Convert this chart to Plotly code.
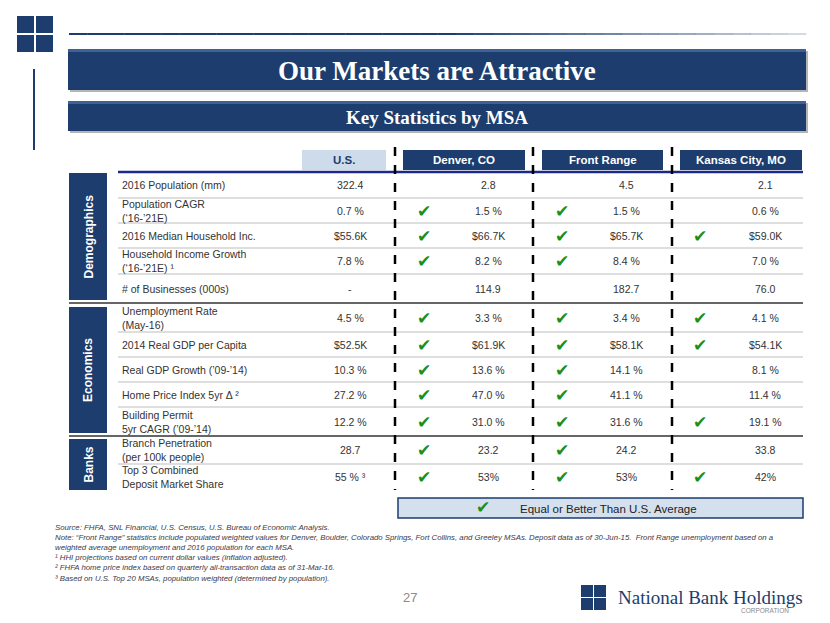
import plotly.graph_objects as go

# ---------------- data ----------------
title = "Our Markets are Attractive"
subtitle = "Key Statistics by MSA"
columns = ["U.S.", "Denver, CO", "Front Range", "Kansas City, MO"]
sections = ["Demographics", "Economics", "Banks"]
section_rows = [5, 5, 2]
row_labels = [
    "2016 Population (mm)",
    "Population CAGR<br>(‘16-’21E)",
    "2016 Median Household Inc.",
    "Household Income Growth<br>(‘16-’21E) ¹",
    "# of Businesses (000s)",
    "Unemployment Rate<br>(May-16)",
    "2014 Real GDP per Capita",
    "Real GDP Growth (’09-’14)",
    "Home Price Index 5yr Δ ²",
    "Building Permit<br>5yr CAGR (’09-’14)",
    "Branch Penetration<br>(per 100k people)",
    "Top 3 Combined<br>Deposit Market Share",
]
us_values = ["322.4", "0.7 %", "$55.6K", "7.8 %", "-", "4.5 %", "$52.5K", "10.3 %",
             "27.2 %", "12.2 %", "28.7", "55 % ³"]
denver_values = ["2.8", "1.5 %", "$66.7K", "8.2 %", "114.9", "3.3 %", "$61.9K", "13.6 %",
                 "47.0 %", "31.0 %", "23.2", "53%"]
front_range_values = ["4.5", "1.5 %", "$65.7K", "8.4 %", "182.7", "3.4 %", "$58.1K", "14.1 %",
                      "41.1 %", "31.6 %", "24.2", "53%"]
kansas_city_values = ["2.1", "0.6 %", "$59.0K", "7.0 %", "76.0", "4.1 %", "$54.1K", "8.1 %",
                      "11.4 %", "19.1 %", "33.8", "42%"]
# 1 = equal or better than U.S. average
denver_checks = [0, 1, 1, 1, 0, 1, 1, 1, 1, 1, 1, 1]
front_range_checks = [0, 1, 1, 1, 0, 1, 1, 1, 1, 1, 1, 1]
kansas_city_checks = [0, 0, 1, 0, 0, 1, 1, 0, 0, 1, 0, 1]
legend_text = "Equal or Better Than U.S. Average"
footnotes = [
    "Source: FHFA, SNL Financial, U.S. Census, U.S. Bureau of Economic Analysis.",
    "Note: “Front Range” statistics include populated weighted values for Denver, Boulder, Colorado Springs, Fort Collins, and Greeley MSAs. Deposit data as of 30-Jun-15.  Front Range unemployment based on a",
    "weighted average unemployment and 2016 population for each MSA.",
    "¹ HHI projections based on current dollar values (inflation adjusted).",
    "² FHFA home price index based on quarterly all-transaction data as of 31-Mar-16.",
    "³ Based on U.S. Top 20 MSAs, population weighted (determined by population).",
]
page_number = "27"
company = "National Bank Holdings"
company_sub = "CORPORATION"

# ---------------- layout constants ----------------
W, H = 830, 623
OFF = 8  # default page body margin
NAVY = "#1c3d6e"
SANS = "Liberation Sans, Arial, sans-serif"
SERIF = "Liberation Serif, Times New Roman, serif"
GREEN = "#1a8f1a"

row_bounds = [172, 198, 223, 248, 274, 303, 332, 357, 382, 407, 436, 464, 490]
row_centers = [(row_bounds[i] + row_bounds[i + 1]) / 2 for i in range(12)]
col_boxes = [(302, 386), (403, 525), (542, 663), (680, 802)]
val_x = [350, 488, 626, 765]
check_x = [None, 424, 562, 700]
dash_x = [395, 533, 672]

shapes = []
ann = []


def rect(x0, y0, x1, y1, fill, line=None, lw=0):
    shapes.append(dict(type="rect", x0=x0, y0=y0, x1=x1, y1=y1, xref="x", yref="y",
                       fillcolor=fill, line=dict(color=line or fill, width=lw), layer="below"))


def line(x0, y0, x1, y1, color, width=1, dash=None):
    shapes.append(dict(type="line", x0=x0, y0=y0, x1=x1, y1=y1, xref="x", yref="y",
                       line=dict(color=color, width=width, dash=dash)))


def text(x, y, t, size=11, color="#333", family=SANS, xanchor="center", **kw):
    ann.append(dict(x=x, y=y, xref="x", yref="y", text=t, showarrow=False, xanchor=xanchor,
                    yanchor="middle", font=dict(size=size, color=color, family=family), **kw))


# top-left logo squares
for (x0, y0) in [(17, 16), (36, 16), (17, 35), (36, 35)]:
    rect(x0, y0, x0 + 17, y0 + 17, NAVY)
line(34, 69, 34, 150, NAVY, 2)
# gradient line (dark, fading toward the right end), drawn as thin filled rects
n = 40
for i in range(n):
    xa = 69 + (806 - 69) * i / n
    xb = 69 + (806 - 69) * (i + 1) / n
    frac = i / n
    a = 1.0 if frac < 0.5 else 1 - 1.7 * (frac - 0.5)
    col = f"rgba(28,61,110,{max(a, 0.12):.2f})"
    shapes.append(dict(type="rect", x0=xa, x1=xb + 0.3, y0=33, y1=35, xref="x", yref="y",
                       fillcolor=col, line=dict(width=0)))

# title bars
for (y0, y1, t, fs) in [(49, 90, title, 27), (101, 131, subtitle, 19)]:
    rect(70, y0 + 2, 808, y1 + 2, "#b5b5b5")
    rect(68, y0, 806, y1, NAVY)
    rect(68, y0, 806, y0 + 3, "#3f6296")
    text(437, (y0 + y1) / 2 + 1, f"<b>{t}</b>", size=fs, color="white", family=SERIF)

# column headers
for i, (c, (x0, x1)) in enumerate(zip(columns, col_boxes)):
    if i == 0:
        rect(x0, 150, x1, 170, "#cddbeb")
        text((x0 + x1) / 2, 160, f"<b>{c}</b>", size=11.5, color=NAVY)
    else:
        rect(x0, 150, x1, 170, NAVY)
        text((x0 + x1) / 2, 160, f"<b>{c}</b>", size=11.5, color="white")

# row separators
for i, yb in enumerate(row_bounds[1:-1]):
    if yb in (303, 436):
        line(69, yb, 803, yb, "#333333", 1.5)
    else:
        line(118, yb, 803, yb, "#bdbdbd", 1)
line(118, 172, 803, 172, "#1b2a8a", 2.5)

# section boxes
sec_bounds = [(173, 300), (307, 433), (439, 490)]
for s, (y0, y1) in zip(sections, sec_bounds):
    rect(69, y0, 107, y1, NAVY)
    text(88, (y0 + y1) / 2, f"<b>{s}</b>", size=12, color="white", textangle=-90)

# dashed lines
for dx in dash_x:
    line(dx, 147, dx, 490, "black", 2.5, "dash")

# row contents
all_vals = [us_values, denver_values, front_range_values, kansas_city_values]
all_checks = [None, denver_checks, front_range_checks, kansas_city_checks]
for r, lab in enumerate(row_labels):
    yc = row_centers[r]
    text(120, yc, lab, size=10.5, color="#333", xanchor="left", align="left")
    for c in range(4):
        text(val_x[c], yc, all_vals[c][r], size=10.5, color="#333")
        if c > 0 and all_checks[c][r]:
            text(check_x[c], yc, "✔", size=17, color=GREEN, family="DejaVu Sans")

# legend
rect(398, 498, 803, 518, "#d4e0ee", NAVY, 1.5)
text(483, 507, "✔", size=17, color=GREEN, family="DejaVu Sans")
text(608, 508.5, legend_text, size=11.5, color="#222")

# footnotes
for i, f in enumerate(footnotes):
    text(53, 527 + i * 10.2, f"<i>{f}</i>", size=7.8, color="#3a3a4a", xanchor="left")

# page number
text(410, 597, page_number, size=13, color="#8a8a8a")

# bottom logo
for (x0, y0) in [(581, 585), (594, 585), (581, 598), (594, 598)]:
    rect(x0, y0, x0 + 12, y0 + 12, NAVY)
text(710, 597, company, size=19, color=NAVY, family=SERIF)
text(765, 610.5, company_sub, size=6.5, color="#8a8a8a")

fig = go.Figure()
fig.add_trace(go.Scatter(x=[OFF, W - OFF], y=[OFF, H - OFF], mode="markers",
                         marker=dict(opacity=0), hoverinfo="skip", showlegend=False))
fig.update_layout(
    width=W - 2 * OFF, height=H - 2 * OFF, margin=dict(l=0, r=0, t=0, b=0),
    paper_bgcolor="white", plot_bgcolor="white",
    xaxis=dict(range=[OFF, W - OFF], visible=False, fixedrange=True),
    yaxis=dict(range=[H - OFF, OFF], visible=False, fixedrange=True),
    shapes=shapes, annotations=ann, showlegend=False,
)
fig.write_html("out.html")
